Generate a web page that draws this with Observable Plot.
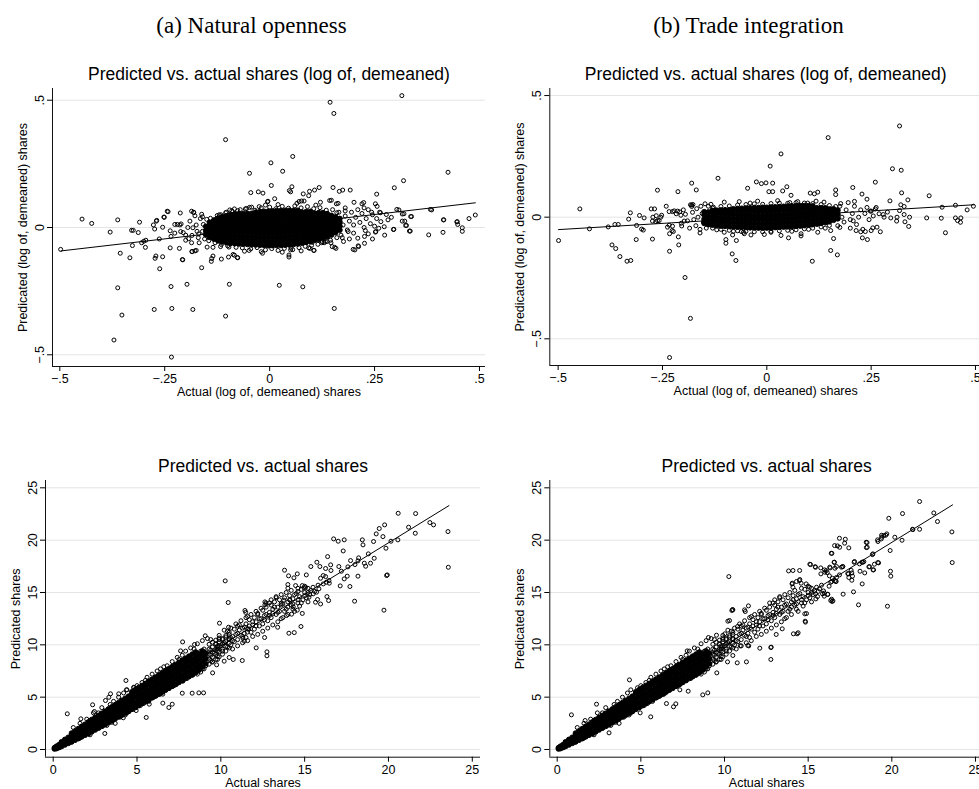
<!DOCTYPE html>
<html><head><meta charset="utf-8">
<script src="https://cdn.jsdelivr.net/npm/d3@7"></script>
<script src="https://cdn.jsdelivr.net/npm/@observablehq/plot@0.6"></script>
<style>
html,body{margin:0;padding:0;background:#fff;}
#wrap{position:relative;width:979px;height:789px;overflow:hidden;background:#fff;}
.panel{position:absolute;width:500px;}
.panel svg{max-width:none !important;}
</style></head><body>
<div id="wrap">
 <div class="panel" id="pA" style="left:0px;top:0px"></div>
 <div class="panel" id="pB" style="left:490px;top:0px"></div>
 <div class="panel" id="pC" style="left:0px;top:430px"></div>
 <div class="panel" id="pD" style="left:490px;top:430px"></div>
</div>
<script>
// ---------- tick values ----------
const xTicksLog = [-0.5, -0.25, 0, 0.25, 0.5];
const yTicksLog = [-0.5, 0, 0.5];
const xTicksShares = [0, 5, 10, 15, 20, 25];
const yTicksShares = [0, 5, 10, 15, 20, 25];

// ---------- (a) natural openness, log demeaned ----------
// dense core: [actual, [predicted ...]]
const natLogCore = [
[-0.152,[-0.028,-0.012,0.004]],
[-0.143,[-0.038,-0.022,-0.005,0.01,0.02]],
[-0.133,[-0.045,-0.03,-0.014,0.002,0.017,0.028]],
[-0.123,[-0.052,-0.036,-0.02,-0.004,0.011,0.026,0.036]],
[-0.113,[-0.056,-0.04,-0.025,-0.009,0.006,0.021,0.035,0.042]],
[-0.103,[-0.059,-0.044,-0.028,-0.013,0.002,0.017,0.031,0.045]],
[-0.093,[-0.061,-0.046,-0.03,-0.015,0.0,0.015,0.03,0.044,0.05]],
[-0.083,[-0.063,-0.047,-0.032,-0.016,-0.001,0.014,0.029,0.043,0.053]],
[-0.073,[-0.064,-0.048,-0.033,-0.017,-0.002,0.013,0.028,0.042,0.054]],
[-0.063,[-0.065,-0.05,-0.034,-0.018,-0.003,0.012,0.027,0.041,0.054]],
[-0.053,[-0.066,-0.051,-0.035,-0.019,-0.004,0.011,0.026,0.04,0.055]],
[-0.043,[-0.067,-0.052,-0.036,-0.02,-0.005,0.01,0.025,0.04,0.055]],
[-0.033,[-0.068,-0.053,-0.037,-0.021,-0.006,0.009,0.024,0.039,0.055,0.06]],
[-0.023,[-0.069,-0.054,-0.038,-0.022,-0.007,0.008,0.023,0.038,0.054,0.062]],
[-0.013,[-0.07,-0.055,-0.039,-0.023,-0.008,0.007,0.022,0.037,0.052,0.063]],
[-0.003,[-0.071,-0.056,-0.04,-0.024,-0.009,0.006,0.021,0.036,0.051,0.064]],
[0.007,[-0.071,-0.056,-0.04,-0.024,-0.009,0.006,0.021,0.036,0.051,0.065]],
[0.017,[-0.07,-0.055,-0.039,-0.023,-0.008,0.007,0.022,0.037,0.052,0.066]],
[0.027,[-0.07,-0.054,-0.038,-0.022,-0.007,0.008,0.023,0.038,0.053,0.066]],
[0.037,[-0.069,-0.053,-0.037,-0.021,-0.006,0.009,0.024,0.039,0.054,0.067]],
[0.047,[-0.068,-0.052,-0.036,-0.02,-0.005,0.01,0.025,0.04,0.055,0.067]],
[0.057,[-0.066,-0.05,-0.034,-0.018,-0.003,0.012,0.027,0.042,0.057,0.067]],
[0.067,[-0.064,-0.048,-0.032,-0.016,-0.001,0.014,0.029,0.044,0.058,0.067]],
[0.077,[-0.061,-0.045,-0.03,-0.014,0.002,0.017,0.032,0.047,0.06]],
[0.087,[-0.058,-0.042,-0.027,-0.011,0.005,0.02,0.035,0.05,0.062]],
[0.097,[-0.054,-0.039,-0.023,-0.007,0.008,0.023,0.038,0.053,0.063]],
[0.107,[-0.05,-0.035,-0.019,-0.003,0.012,0.027,0.042,0.056]],
[0.117,[-0.046,-0.03,-0.014,0.001,0.016,0.031,0.046,0.058]],
[0.127,[-0.041,-0.025,-0.009,0.006,0.021,0.036,0.05,0.058]],
[0.137,[-0.035,-0.019,-0.004,0.012,0.027,0.042,0.054]],
[0.147,[-0.029,-0.013,0.003,0.018,0.033,0.047]],
[0.157,[-0.02,-0.004,0.012,0.027,0.041]],
[0.167,[-0.01,0.006,0.022,0.035]]
];
// individual circles: [actual, predicted]
const natLogPoints = [
[-0.498,-0.086],[-0.447,0.033],[-0.424,0.016],[-0.380,-0.018],[-0.362,0.030],[-0.356,-0.101],[-0.333,-0.119],
[-0.329,-0.011],[-0.325,-0.011],[-0.327,-0.071],[-0.313,-0.020],[-0.310,0.021],[-0.305,-0.060],[-0.300,-0.054],
[-0.296,-0.078],[-0.295,-0.050],[-0.362,-0.237],[-0.352,-0.344],[-0.371,-0.442],[-0.275,-0.322],[-0.235,-0.232],
[-0.233,-0.318],[-0.234,-0.509],[-0.197,-0.223],[-0.183,-0.322],[-0.105,0.345],[-0.105,-0.348],[-0.096,-0.223],
[0.023,-0.227],[0.079,-0.233],[0.154,-0.318],[0.144,0.492],[0.153,0.448],[0.315,0.518],[0.003,0.254],[0.055,0.279],
[0.031,0.221],[-0.048,0.213],[0.425,0.217],[0.319,0.184],[0.297,0.156],[0.255,0.131],[0.383,0.071],[0.303,0.071],
[0.475,0.035],[0.490,0.049],[0.415,0.030],[0.447,0.023],[0.448,0.012],[0.459,-0.001],[0.459,-0.015],[0.413,-0.019],
[0.379,-0.029],[0.335,-0.014],[0.338,0.043],[0.326,0.008],[0.322,0.025],[0.316,0.053],[0.296,-0.007],[0.274,-0.030],
[0.265,0.023],[0.253,-0.016],[0.260,-0.003],[0.273,0.003],[0.282,0.030],[0.290,0.040],[0.226,-0.062],[0.211,-0.072],
[0.199,-0.086],[0.155,-0.078],[0.146,-0.060],[0.137,-0.055],[0.125,-0.055],[0.106,-0.090],[0.096,-0.082],[0.046,-0.116],
[0.046,-0.108],[0.051,-0.081],[-0.017,-0.101],[-0.076,-0.119],[-0.084,-0.109],[-0.098,-0.116],[-0.115,-0.124],
[-0.139,-0.133],[-0.138,-0.122],[-0.135,-0.112],[-0.162,-0.158],[-0.208,-0.126],[-0.185,-0.094],[-0.215,-0.082],
[-0.237,-0.080],[-0.262,-0.162],[-0.255,-0.115],[-0.273,-0.121],[-0.271,-0.112],[-0.263,-0.045],[-0.244,0.064],
[-0.252,0.041],[-0.213,0.057],[-0.269,0.028],[-0.277,0.010],[-0.274,-0.006],[-0.255,0.001],[-0.237,-0.013],
[-0.226,0.012],[-0.220,0.012],[-0.214,0.010],[-0.211,0.014],[-0.212,-0.016],[-0.186,0.064],[-0.181,0.059],
[-0.178,0.046],[-0.185,-0.095],[-0.178,-0.092],[-0.200,-0.050],[-0.270,0.025],[-0.251,0.040],[-0.242,0.062],
[-0.235,-0.035],[-0.226,-0.022],[-0.206,-0.020],[-0.207,-0.127],[-0.181,0.060],[-0.183,-0.001],[-0.173,-0.015],
[-0.175,-0.090],[-0.149,-0.077],[-0.135,-0.078],[-0.117,-0.075],[-0.097,-0.077],[-0.093,-0.064],[-0.087,-0.106],
[-0.077,-0.118],[-0.060,-0.093],[-0.049,-0.090],[-0.143,0.012],[-0.131,0.031],[-0.125,0.047],[-0.103,0.060],
[-0.095,0.069],[-0.084,0.073],[-0.058,0.073],[-0.193,-0.044],[-0.185,-0.031],[-0.169,-0.025],
[-0.045,0.137],[-0.027,0.140],[-0.016,0.135],[0.004,0.165],[0.012,0.113],[-0.005,0.101],[0.047,0.145],[0.053,0.160],
[0.050,0.140],[0.080,0.132],[0.093,0.125],[0.095,0.142],[0.107,0.147],[0.118,0.157],[0.151,0.157],[0.166,0.142],
[0.174,0.147],[0.192,0.147],[0.147,0.107],[0.082,0.104],[0.076,0.104],[0.163,0.095],[0.180,0.077],[0.201,0.099],
[0.224,0.098],[0.256,0.083],[-0.048,0.079],[-0.076,0.066],[-0.116,0.050],[-0.141,0.036],[-0.160,0.042],
[-0.043,0.080],[-0.025,0.082],[-0.004,0.103],[0.070,0.102],[0.121,0.099],[0.143,0.106],[0.159,0.093],[0.220,0.093],
[0.252,0.093],[0.225,0.077],[0.243,0.060],[0.264,0.058],[0.278,0.051],[0.308,0.069],[0.320,0.054],[0.336,0.043],
[0.386,0.069],[0.414,0.030],[0.446,0.022],[0.316,0.025],[0.324,0.008],[0.333,-0.014],[0.295,-0.008],[0.252,-0.018],
[0.228,-0.012],[0.226,-0.035],[0.203,-0.088],[0.212,-0.075],[0.173,-0.040],[0.187,-0.016],[0.158,-0.082],
[0.149,-0.075],[0.133,-0.055],[0.124,-0.060],[0.105,-0.090],[0.093,-0.080],[0.050,-0.088],[0.101,-0.058],
[0.170,-0.030],[0.175,0.010],[0.180,0.045],[0.185,-0.010],[0.190,0.025],[0.195,0.060],[0.200,-0.022],[0.200,0.010],
[0.205,0.040],[0.210,-0.042],[0.215,0.020],[0.220,0.055],[0.225,0.000],[0.230,0.035],[0.235,-0.025],[0.240,0.015],
[0.245,0.050],[0.250,0.005],[0.255,0.035],[0.262,0.060],[0.235,0.070],[0.210,0.070],[0.190,-0.045],[0.245,-0.045],
[0.180,0.065],[0.176,-0.055],[0.165,0.060],[-0.200,-0.030],[-0.195,0.000],[-0.190,0.025],[-0.186,-0.060],
[-0.175,0.010],[-0.170,-0.040],[-0.165,0.035],[-0.160,-0.015],[-0.158,0.012],[-0.168,-0.060],[-0.155,-0.045],
[-0.150,0.032],[-0.162,0.052],[-0.145,-0.052],
[-0.120,0.050],[-0.105,0.058],[-0.090,0.066],[-0.070,0.070],[-0.055,0.075],[-0.035,0.068],[-0.020,0.077],[0.000,0.080],
[0.015,0.074],[0.030,0.083],[0.045,0.076],[0.060,0.085],[0.075,0.077],[0.090,0.082],[0.105,0.074],[0.120,0.078],
[0.135,0.068],[0.150,0.070],[0.160,0.058],[0.020,0.090],[0.065,0.095],[-0.010,0.088],[0.110,0.088],
[-0.130,-0.060],[-0.115,-0.067],[-0.100,-0.072],[-0.080,-0.078],[-0.065,-0.080],[-0.045,-0.084],[-0.030,-0.079],
[-0.010,-0.088],[0.005,-0.083],[0.020,-0.090],[0.035,-0.082],[0.055,-0.087],[0.070,-0.079],[0.085,-0.074],
[0.100,-0.070],[0.115,-0.066],[0.130,-0.060],[0.145,-0.050],[0.160,-0.040],[-0.020,-0.095],[0.030,-0.097],[0.075,-0.092]
];
const natLogFit = [[-0.497,-0.092],[0.490,0.097]];

// ---------- (b) trade integration, log demeaned ----------
const tradeLogCore = [
[-0.15,[-0.025,-0.008,0.01,0.022]],
[-0.14,[-0.03,-0.013,0.004,0.021]],
[-0.13,[-0.032,-0.015,0.002,0.019,0.027]],
[-0.12,[-0.034,-0.017,0.0,0.017,0.028]],
[-0.11,[-0.036,-0.019,-0.002,0.015,0.029]],
[-0.10,[-0.037,-0.02,-0.003,0.014,0.03]],
[-0.09,[-0.038,-0.021,-0.004,0.013,0.03]],
[-0.08,[-0.039,-0.022,-0.005,0.012,0.029,0.034]],
[-0.07,[-0.04,-0.023,-0.006,0.011,0.028,0.035]],
[-0.06,[-0.041,-0.024,-0.007,0.01,0.027,0.036]],
[-0.05,[-0.042,-0.025,-0.008,0.009,0.026,0.037]],
[-0.04,[-0.043,-0.026,-0.009,0.008,0.025,0.038]],
[-0.03,[-0.043,-0.026,-0.009,0.008,0.025,0.039]],
[-0.02,[-0.044,-0.027,-0.01,0.007,0.024,0.039]],
[-0.01,[-0.044,-0.027,-0.01,0.007,0.024,0.04]],
[0.00,[-0.044,-0.027,-0.01,0.007,0.024,0.04]],
[0.01,[-0.043,-0.026,-0.009,0.008,0.025,0.041]],
[0.02,[-0.042,-0.025,-0.008,0.009,0.026,0.042]],
[0.03,[-0.041,-0.024,-0.007,0.01,0.027,0.043]],
[0.04,[-0.04,-0.023,-0.006,0.011,0.028,0.044]],
[0.05,[-0.039,-0.022,-0.005,0.012,0.029,0.045]],
[0.06,[-0.038,-0.021,-0.004,0.013,0.03,0.046]],
[0.07,[-0.037,-0.02,-0.003,0.014,0.031,0.046]],
[0.08,[-0.036,-0.019,-0.002,0.015,0.032,0.047]],
[0.09,[-0.034,-0.017,0.0,0.017,0.034,0.047]],
[0.10,[-0.032,-0.015,0.002,0.019,0.036,0.047]],
[0.11,[-0.03,-0.013,0.004,0.021,0.037,0.046]],
[0.12,[-0.028,-0.011,0.006,0.023,0.038]],
[0.13,[-0.025,-0.008,0.009,0.026,0.038]],
[0.14,[-0.022,-0.005,0.012,0.029,0.038]],
[0.15,[-0.018,-0.001,0.016,0.033]],
[0.16,[-0.012,0.005,0.022,0.034]],
[0.17,[-0.006,0.012,0.028]]
];
const tradeLogPoints = [
[-0.499,-0.096],[-0.448,0.034],[-0.425,-0.048],[-0.380,-0.040],[-0.364,-0.030],[-0.356,-0.030],[-0.371,-0.114],
[-0.362,-0.129],[-0.352,-0.162],[-0.335,-0.181],[-0.326,-0.178],[-0.331,-0.008],[-0.327,0.018],[-0.312,-0.034],
[-0.305,0.007],[-0.300,-0.049],[-0.296,-0.053],[-0.294,-0.003],[-0.313,-0.092],[-0.274,-0.090],[-0.262,0.111],
[-0.277,0.034],[-0.269,0.034],[-0.273,0.000],[-0.265,0.006],[-0.262,-0.014],[-0.254,0.000],[-0.252,0.008],
[-0.258,-0.014],[-0.266,-0.018],[-0.274,-0.016],[-0.241,0.045],[-0.234,0.023],[-0.226,0.023],[-0.222,0.026],
[-0.217,0.014],[-0.214,0.025],[-0.209,0.022],[-0.206,0.008],[-0.213,0.105],[-0.234,-0.033],[-0.238,-0.041],
[-0.226,-0.037],[-0.227,-0.055],[-0.233,-0.068],[-0.224,-0.059],[-0.212,-0.081],[-0.211,-0.114],[-0.233,-0.140],
[-0.196,-0.248],[-0.183,-0.416],[-0.233,-0.577],[-0.198,-0.016],[-0.204,-0.036],[-0.180,0.140],[-0.169,0.112],
[-0.183,0.051],[-0.180,0.044],[-0.177,0.052],[-0.117,0.160],[-0.083,-0.151],[-0.074,-0.178],[-0.073,-0.096],
[-0.098,-0.107],[-0.098,-0.092],[-0.061,-0.059],[-0.056,-0.062],[-0.038,-0.073],[-0.046,0.119],[-0.025,0.145],
[-0.013,0.138],[-0.002,0.141],[0.014,0.140],[0.005,0.105],[0.014,0.105],[0.008,0.210],[0.034,0.260],[0.038,0.108],
[0.048,0.125],[0.058,0.090],[0.104,0.099],[0.114,0.096],[0.122,0.103],[0.147,0.327],[0.165,0.112],[0.165,0.093],
[0.206,0.122],[0.228,0.095],[0.240,0.074],[0.260,0.144],[0.301,0.199],[0.322,0.193],[0.318,0.375],[0.323,0.100],
[0.338,0.071],[0.295,0.067],[0.389,0.088],[0.383,-0.003],[0.420,0.041],[0.418,-0.004],[0.428,-0.064],[0.452,0.049],
[0.452,-0.003],[0.457,-0.014],[0.465,-0.003],[0.464,-0.021],[0.480,0.030],[0.495,0.045],[0.109,-0.181],
[0.153,-0.137],[0.169,-0.155],[0.160,-0.088],[0.175,-0.042],[0.052,-0.085],[0.082,-0.077],
[0.311,-0.016],[0.312,0.000],[0.297,-0.003],[0.281,0.000],[0.289,0.021],[0.279,0.011],[0.272,-0.060],[0.254,-0.044],
[0.250,-0.055],[0.264,-0.041],[0.241,-0.092],[0.229,-0.085],[0.236,-0.059],[0.214,-0.055],[0.207,-0.015],
[0.321,0.051],[0.329,0.044],[0.318,0.027],[0.329,0.011],[0.342,0.000],[0.331,-0.019],[0.340,-0.038],[0.260,0.034],
[0.269,0.014],[0.248,0.025],
[-0.148,0.055],[-0.134,0.053],[-0.128,0.041],[-0.082,-0.073],[-0.102,0.062],[-0.066,0.064],[-0.022,0.066],
[0.026,0.068],[0.074,0.064],[0.118,0.066],[0.137,0.062],[0.177,0.056],[-0.102,-0.062],[-0.054,-0.068],
[-0.006,-0.071],[0.034,-0.075],[0.082,-0.068],[0.122,-0.062],[0.153,-0.055],[-0.040,0.058],[0.055,0.060],
[0.098,0.058],[-0.120,-0.052],[-0.080,-0.058],[0.010,-0.062],[0.060,-0.058],[0.100,-0.050],[0.140,-0.045],
[-0.180,0.050],[-0.178,0.020],[-0.175,-0.010],[-0.170,-0.035],[-0.168,0.035],[-0.165,0.000],[-0.160,-0.050],
[-0.158,0.045],[-0.155,0.015],[-0.152,-0.020],[-0.190,-0.015],[-0.195,0.012],[-0.200,0.030],[-0.205,-0.025],
[-0.185,-0.045],[-0.160,-0.065],[-0.145,-0.045],[-0.140,0.045],
[0.170,-0.035],[0.175,0.045],[0.180,0.000],[0.185,-0.020],[0.190,0.030],[0.195,0.060],[0.200,-0.010],[0.205,0.015],
[0.210,0.045],[0.215,-0.030],[0.220,0.000],[0.225,0.030],[0.230,-0.050],[0.235,0.015],[0.240,0.040],[0.245,-0.010],
[0.250,0.025],[0.255,0.005],[0.262,0.040],[0.210,0.065],[0.225,-0.060],[0.200,-0.045],
[-0.130,0.038],[-0.110,0.044],[-0.090,0.046],[-0.070,0.050],[-0.050,0.052],[-0.030,0.055],[-0.010,0.053],[0.010,0.056],
[0.030,0.058],[0.050,0.057],[0.070,0.060],[0.090,0.058],[0.110,0.056],[0.130,0.052],[0.150,0.048],[0.165,0.044],
[-0.130,-0.045],[-0.110,-0.050],[-0.090,-0.054],[-0.070,-0.056],[-0.050,-0.058],[-0.030,-0.060],[-0.010,-0.060],
[0.010,-0.058],[0.030,-0.056],[0.050,-0.054],[0.070,-0.052],[0.090,-0.048],[0.110,-0.045],[0.130,-0.040],[0.150,-0.034]
];
const tradeLogFit = [[-0.499,-0.051],[0.496,0.051]];

// ---------- bottom row: shares (actual values shared by both columns) ----------
// solid band near the origin: [actual, [predicted ...]]
const sharesBand = [
[0.08,[0.06,0.16]],[0.2,[0.1,0.3]],[0.35,[0.2,0.45]],[0.5,[0.3,0.55,0.72]],[0.7,[0.45,0.72,0.95]],
[0.9,[0.6,0.88,1.15]],[1.1,[0.75,1.05,1.35,1.55]],[1.3,[0.9,1.25,1.6,1.75]],[1.5,[1.05,1.45,1.82,1.98]],
[1.7,[1.22,1.62,2.02,2.2]],[1.9,[1.38,1.8,2.22,2.4]],[2.1,[1.52,1.98,2.42,2.62]],[2.3,[1.7,2.15,2.6,2.85]],
[2.5,[1.88,2.33,2.78,3.05]],[2.7,[2.05,2.5,2.95,3.25]],[2.9,[2.22,2.68,3.14,3.45]],[3.1,[2.4,2.86,3.32,3.65]],
[3.3,[2.58,3.04,3.5,3.86]],[3.5,[2.75,3.22,3.68,4.06]],[3.7,[2.95,3.42,3.88,4.26]],[3.9,[3.12,3.6,4.08,4.46]],
[4.1,[3.3,3.78,4.26,4.68]],[4.3,[3.48,3.96,4.44,4.88]],[4.5,[3.65,4.14,4.62,5.08]],[4.7,[3.85,4.33,4.81,5.28,5.5]],
[4.9,[4.02,4.5,4.98,5.46,5.7]],[5.1,[4.2,4.68,5.16,5.64,5.9]],[5.3,[4.4,4.88,5.36,5.84,6.1]],[5.5,[4.58,5.06,5.54,6.02,6.3]],
[5.7,[4.76,5.24,5.72,6.2,6.5]],[5.9,[4.95,5.43,5.91,6.39,6.7]],[6.1,[5.12,5.6,6.08,6.56,6.9]],[6.3,[5.3,5.78,6.26,6.74,7.1]],
[6.5,[5.5,5.98,6.46,6.94,7.3]],[6.7,[5.68,6.16,6.64,7.12,7.5]],[6.9,[5.86,6.34,6.82,7.3,7.7]],[7.1,[6.05,6.53,7.01,7.49,7.9]],
[7.3,[6.22,6.7,7.18,7.66,8.1]],[7.5,[6.42,6.9,7.38,7.86,8.3]],[7.7,[6.6,7.08,7.56,8.04,8.5]],[7.9,[6.8,7.28,7.76,8.24,8.7]],
[8.1,[6.98,7.46,7.94,8.42,8.9]],[8.3,[7.15,7.63,8.11,8.59,9.1]],[8.5,[7.35,7.83,8.31,8.79,9.3]],[8.7,[7.6,8.1,8.6,9.1]],
[8.9,[7.9,8.4,8.9,9.4]],[9.1,[8.2,8.7,9.2]]
];
// dense but separately visible circles further up the band: [actual, [predicted ...]]
const sharesBandUpper = [
[9.3,[8.15,8.63,9.11,9.59,10.05]],[9.5,[8.35,8.83,9.31,9.79,10.25]],
[9.7,[8.6,9.08,9.56,10.04,10.45]],[9.9,[8.85,9.33,9.81,10.29,10.65]],[10.1,[9.1,9.58,10.06,10.5]],[10.3,[9.4,9.85,10.3,10.75]],
[10.5,[9.7,10.15,10.6,11.0]],[9.4,[8.5,9.0,9.5]],[9.8,[8.9,9.4,9.9]],[9.0,[9.6,7.7]],[8.8,[9.4,7.4]],[8.6,[9.2,7.2]]
];
// individual circles around the band (both columns)
const sharesMid = [
[9.6,9.2],[9.7,10.1],[9.8,9.6],[9.9,10.5],[10.0,9.9],[10.1,10.6],[10.1,9.4],[10.2,10.2],[10.3,10.9],[10.4,9.8],
[10.5,10.5],[10.5,11.2],[10.6,10.0],[10.7,10.8],[10.8,11.5],[10.8,10.3],[10.9,11.0],[11.0,10.5],[11.1,11.4],
[11.1,11.9],[11.2,10.9],[11.3,11.6],[11.4,11.1],[11.5,12.0],[11.5,10.7],[11.6,11.5],[11.7,12.4],[11.8,11.2],
[11.9,11.9],[12.0,12.6],[12.0,11.5],[12.1,12.2],[12.2,13.0],[12.3,11.8],[12.4,12.5],[12.5,13.3],[12.5,12.0],
[12.6,12.8],[12.7,13.6],[12.8,12.3],[12.9,13.1],[13.0,13.8],[13.0,12.6],[13.1,13.4],[13.2,14.1],[13.3,12.9],
[13.4,13.6],[13.5,14.3],[13.5,13.2],[13.6,12.5],[13.7,13.9],[13.8,14.5],[13.9,13.4],[14.0,14.1],[14.1,14.7],
[14.2,13.8],[14.3,14.4],[14.4,13.2],[14.5,14.9],[14.6,14.0],[14.7,14.6],[14.8,15.3],[14.9,14.3],[15.0,15.0],
[15.1,14.5],[15.2,15.4],[15.3,14.8],[15.5,15.5],[15.6,15.1],[15.8,15.7],[12.2,12.9],[11.6,12.7],[12.9,14.0],
[13.3,14.5],[11.0,11.8],[10.4,11.3],[9.9,10.9],[10.2,11.4],
[10.6,11.6],[10.7,9.6],[10.9,12.0],[11.0,9.9],[11.2,12.3],[11.3,10.2],[11.5,12.6],[11.6,10.4],[11.8,12.9],[11.9,10.8],
[12.1,13.2],[12.2,11.0],[12.4,13.5],[12.5,11.3],[12.7,14.0],[12.8,11.6],[13.0,14.3],[13.1,11.9],[13.3,14.6],[13.4,12.2],
[13.6,14.8],[13.7,12.6],[13.9,15.0],[14.0,12.9],[14.2,15.2],[14.3,13.4],[14.6,15.4],[14.7,13.7],[15.0,15.6],[15.2,14.1],
[10.7,10.4],[11.0,11.1],[11.3,10.8],[11.4,11.7],[11.7,11.8],[11.9,12.2],[12.1,11.8],[12.3,12.5],[12.6,12.4],[12.7,12.9],
[12.9,12.8],[13.1,13.0],[13.2,13.6],[13.4,13.1],[13.6,13.8],[13.8,13.2],[14.0,13.6],[14.1,14.3],[14.3,13.9],[14.4,14.8],
[14.6,14.3],[14.8,14.0],[15.0,14.7],[15.2,15.0],
[1.2,2.1],[1.6,2.5],[2.0,2.9],[2.4,3.5],[2.9,4.0],[3.6,4.6],[3.9,5.0],[4.2,5.4],[4.4,5.7],[5.0,6.1],[5.3,6.4],
[5.6,6.9],[5.9,7.2],[6.2,7.5],[6.4,7.7],[6.8,8.0],[7.1,8.4],[7.4,8.8],[7.7,9.0],[7.9,9.4],[8.2,9.7],[8.6,10.1],
[8.9,10.4],[9.2,10.6],[1.1,0.7],[1.6,1.1],[2.1,1.5],[2.6,2.0],[3.0,2.3],[3.5,2.6],[4.0,3.1],[4.6,3.8],[5.2,4.2],
[5.7,4.6],[6.2,5.2],[6.6,5.6],[7.0,6.0],[7.4,6.3],[7.9,6.9],[8.3,7.1],[8.7,7.6],[9.1,8.0],[9.5,8.4],[6.0,5.0],
[4.3,3.3],[3.7,2.5],[2.7,3.5],[3.4,4.3],[4.8,5.9],[5.5,6.6],[6.6,7.9],[7.5,8.6],[8.4,9.6],[9.4,10.5],
[2.2,1.4],[3.2,2.3],[4.4,3.5],[5.4,4.4],[6.4,5.3],[7.2,6.1],[8.0,6.8],[8.9,7.7],[9.8,8.6]
];
const natSharesPoints = [
[21.62,22.54],[20.58,22.57],[22.47,21.68],[22.69,21.46],[21.20,21.24],[19.77,21.46],[19.45,21.11],[19.27,20.60],
[19.67,20.34],[21.60,20.66],[23.55,20.82],[23.57,17.41],[20.56,20.03],[20.15,19.90],[19.85,19.23],[19.11,19.87],
[18.44,20.03],[18.48,19.55],[16.73,20.12],[17.00,19.90],[17.36,20.03],[17.30,18.97],[19.15,18.27],[18.93,17.80],
[18.80,18.69],[18.22,18.31],[18.18,18.02],[17.74,18.05],[18.56,17.80],[18.64,17.51],[18.00,17.67],[17.58,17.45],
[17.04,17.48],[17.19,17.03],[17.54,16.56],[17.36,16.30],[18.18,16.56],[17.12,15.63],[17.70,15.57],[17.98,14.17],
[19.89,16.62],[19.93,16.68],[19.73,13.31],[16.37,18.43],[15.73,17.89],[16.55,17.64],[15.91,17.48],[15.37,17.48],
[16.57,17.10],[16.25,17.29],[16.11,16.62],[15.95,16.36],[16.25,16.52],[16.45,16.14],[16.29,15.98],[16.47,15.89],
[16.11,15.82],[16.33,14.61],[16.43,14.23],[15.77,14.33],[15.10,16.68],[14.56,16.78],[14.04,16.59],[13.80,17.13],
[14.36,16.40],[14.46,15.66],[14.00,15.76],[14.00,15.41],[14.86,15.66],[14.96,15.44],[14.60,15.09],[14.06,11.11],
[14.38,11.17],[14.78,11.75],[13.39,11.68],[10.26,16.11],[10.44,14.04],[12.63,14.10],[12.63,13.82],[13.92,12.80],
[14.22,12.93],[12.61,10.70],[12.75,9.33],[12.75,8.95],[12.11,9.71],[11.28,8.50],[10.50,8.79],[10.74,8.60],
[10.20,8.44],[9.75,8.09],[9.51,7.32],[9.92,12.07],[10.46,11.68],[8.29,5.38],[8.97,5.41],[8.69,5.41],[7.70,5.38],
[7.74,6.53],[7.10,4.33],[6.90,4.01],[6.54,4.43],[6.54,5.29],[5.55,3.06],[4.95,3.72],[5.73,4.33],[4.34,6.59],
[0.84,3.41],[3.08,1.53],[2.35,4.27],[1.65,2.93],[7.72,10.28],[7.60,9.42],[8.43,10.03],[9.07,10.86],[11.40,10.35],
[11.32,10.63],[11.67,11.52],[10.58,10.70],[11.58,11.21],[11.44,13.28],[11.48,13.10],[2.46,3.63],[3.32,4.99],
[3.42,5.32],[3.91,5.32],[3.12,4.68],[4.18,3.03],[4.37,5.70],[4.81,5.95],[5.21,4.99],[5.70,4.68],[15.37,15.19],
[15.06,15.51],[15.26,14.55],[15.71,15.03],[15.51,14.87],[15.85,15.35],[15.65,14.07],[15.95,13.90],[14.86,13.00],
[14.56,13.31],[14.32,13.63],[14.12,14.27],[13.76,14.27],[13.60,13.95]
];
const natSharesFit = [[0.0,0.06],[23.61,23.30]];
const tradeSharesPoints = [
[21.66,23.69],[20.64,22.54],[22.51,22.60],[22.73,21.78],[21.24,21.04],[21.66,21.04],[19.82,22.09],[23.59,20.79],
[23.61,17.86],[20.18,20.28],[20.61,19.99],[19.15,20.03],[19.40,20.28],[19.64,20.47],[19.39,20.47],[19.90,19.01],
[19.92,17.03],[19.94,16.56],[19.74,13.69],[18.01,13.82],[18.23,15.82],[17.71,15.06],[17.09,14.84],[17.41,16.78],
[17.61,16.87],[17.65,16.56],[17.75,17.89],[18.21,17.89],[18.33,17.95],[18.38,16.87],[18.10,17.03],[18.52,19.77],
[18.48,19.29],[18.84,18.62],[18.63,17.45],[18.96,17.70],[19.16,17.86],[18.88,17.16],[16.75,19.45],[16.87,20.18],
[17.43,19.26],[16.99,17.42],[17.07,17.48],[16.69,17.48],[16.38,18.75],[16.55,17.89],[16.60,17.32],[16.29,17.42],
[15.76,16.78],[16.00,16.94],[16.14,16.90],[16.27,16.59],[16.45,16.36],[16.61,16.14],[16.35,15.98],[16.67,16.05],
[16.69,16.43],[15.10,17.70],[15.44,17.41],[15.75,17.35],[15.98,17.16],[16.25,15.60],[15.97,14.94],[16.17,14.81],
[16.35,14.23],[16.43,14.14],[15.44,14.87],[15.56,14.61],[15.46,14.39],[15.86,14.87],[15.96,14.65],[14.90,12.99],
[14.82,12.26],[14.34,11.05],[14.12,11.05],[13.45,11.53],[13.83,17.06],[14.09,17.10],[14.49,17.10],[14.05,15.89],
[14.09,15.50],[14.50,16.24],[14.58,15.89],[14.30,16.05],[10.26,16.52],[10.44,13.28],[11.43,13.72],[11.20,13.34],
[11.24,13.18],[12.11,9.68],[12.77,9.74],[12.77,8.60],[11.31,8.37],[10.76,8.28],[10.18,8.37],[9.54,7.32],[9.00,5.41],
[8.70,5.22],[7.09,4.36],[6.95,4.08],[6.53,4.39],[7.83,5.57],[7.33,5.70],[5.59,3.12],[4.96,3.50],[4.32,6.65],
[0.85,3.31],[3.10,1.59],[2.35,4.33],[1.67,2.77],[7.77,9.42],[9.04,10.70],[9.52,10.92],[10.02,11.05],[10.20,12.26],
[10.48,13.37],[10.78,11.75],[11.45,9.90],[10.94,9.90],[15.14,17.67],[15.42,17.47],[16.08,17.09],[16.32,17.35],
[16.57,17.89],[17.07,17.47],[16.58,19.48],[16.88,19.32],[17.18,19.71],[17.22,20.09],[16.42,18.74],[18.47,19.80],
[18.53,19.32],[18.87,18.69],[19.17,19.87],[19.37,20.12],[19.52,20.44],[19.70,20.60],[17.77,17.96],[18.07,17.73],
[18.27,17.89],[18.67,17.47],[18.91,17.16],[19.21,17.83],[21.26,21.01],[17.57,17.12],[17.37,16.81],[17.43,16.43],
[17.61,16.17],[16.87,16.68],[16.65,16.05],[16.41,16.05],[16.17,14.84],[15.92,15.15],[16.48,14.20],[16.40,14.36],
[14.04,15.82],[14.48,16.14],[14.88,15.82],[15.08,15.50],[15.38,15.18],[15.68,15.34],[14.40,11.15],[14.84,12.17],
[14.80,12.96],[13.09,10.99],[12.79,9.78],[10.50,8.98],[11.39,9.94],[10.30,12.32],[10.50,13.34]
];
const tradeSharesFit = [[0.0,0.06],[23.63,23.37]];

// ---------- drawing ----------
const fmtLog = d => d === 0 ? "0" : (d < 0 ? "\u2212" : "") + String(Math.abs(d)).replace(/^0/, "");
const fmtInt = d => String(d);
const SANS = '"Liberation Sans", Arial, Helvetica, sans-serif';
const SERIF = '"Liberation Serif", "Times New Roman", serif';
const flatCols = cols => cols.flatMap(([x, ys]) => ys.map(y => [x, y]));

function drawPanel(c) {
  const core = flatCols(c.core).map(([x, y]) => ({x, y}));
  const pts = c.points.map(([x, y]) => ({x, y}));
  const fit = c.fit.map(([x, y]) => ({x, y}));
  const marks = [
    Plot.gridY(c.yTicks, {stroke: "#e4e4e4", strokeOpacity: 1, strokeWidth: 1}),
    Plot.ruleX([c.xDomain[0]], {stroke: "#111", strokeWidth: 1}),
    Plot.ruleY([c.yDomain[0]], {stroke: "#111", strokeWidth: 1}),
    Plot.axisX(c.xTicks, {tickFormat: c.fmt, tickSize: 5, tickPadding: 2.5, fontSize: 12.5, label: null}),
    Plot.axisY(c.yTicks, {tickFormat: c.fmt, tickSize: 5, tickRotate: -90, fontSize: 12.5, label: null}),
    Plot.dot(core, {x: "x", y: "y", r: 2.5, stroke: "#000", strokeWidth: 1, fill: "#000"}),
    Plot.dot(pts, {x: "x", y: "y", r: 2, stroke: "#000", strokeWidth: 1, fill: "none"}),
    Plot.line(fit, {x: "x", y: "y", stroke: "#000", strokeWidth: 1}),
    Plot.text([c.title], {text: d => d, frameAnchor: "top", lineAnchor: "middle", dy: c.titleDy, fontSize: 17.5, fill: "#000"}),
    Plot.text([c.xLabel], {text: d => d, frameAnchor: "bottom", lineAnchor: "middle", dy: 25.5, fontSize: 12.5, fill: "#000"}),
    Plot.text([c.yLabel], {text: d => d, frameAnchor: "left", textAnchor: "middle", lineAnchor: "middle", dx: -29.5, rotate: -90, fontSize: 12.5, fill: "#000"})
  ];
  if (c.heading) marks.push(Plot.text([c.heading], {text: d => d, frameAnchor: "top", lineAnchor: "middle", dx: c.headDx, dy: -62.4, fontSize: 23, fontFamily: SERIF, fill: "#000"}));
  const svg = Plot.plot({
    width: c.width, height: c.height,
    marginLeft: c.ml, marginRight: c.mr, marginTop: c.mt, marginBottom: c.mb,
    x: {domain: c.xDomain}, y: {domain: c.yDomain},
    style: {fontFamily: SANS, background: "white", overflow: "visible", color: "#000", maxWidth: "none"},
    marks
  });
  document.getElementById(c.el).appendChild(svg);
}

const sharesCircles = flatCols(sharesBandUpper).concat(sharesMid);

drawPanel({el: "pA", width: 490, height: 400, ml: 52, mr: 5, mt: 88, mb: 34,
  xDomain: [-0.5174, 0.5143], yDomain: [-0.546, 0.546], xTicks: xTicksLog, yTicks: yTicksLog, fmt: fmtLog,
  core: natLogCore, points: natLogPoints, fit: natLogFit,
  title: "Predicted vs. actual shares (log of, demeaned)", titleDy: -14,
  xLabel: "Actual (log of, demeaned) shares", yLabel: "Predicated (log of, demeaned) shares",
  heading: "(a) Natural openness", headDx: -17.5});
drawPanel({el: "pB", width: 500, height: 400, ml: 59.3, mr: 9, mt: 88, mb: 35,
  xDomain: [-0.520, 0.5144], yDomain: [-0.6097, 0.529], xTicks: xTicksLog, yTicks: yTicksLog, fmt: fmtLog,
  core: tradeLogCore, points: tradeLogPoints, fit: tradeLogFit,
  title: "Predicted vs. actual shares (log of, demeaned)", titleDy: -14,
  xLabel: "Actual (log of, demeaned) shares", yLabel: "Predicated (log of, demeaned) shares",
  heading: "(b) Trade integration", headDx: -17.2});
drawPanel({el: "pC", width: 490, height: 359, ml: 45, mr: 10, mt: 50, mb: 32.3,
  xDomain: [-0.459, 25.49], yDomain: [-0.736, 25.70], xTicks: xTicksShares, yTicks: yTicksShares, fmt: fmtInt,
  core: sharesBand, points: sharesCircles.concat(natSharesPoints), fit: natSharesFit,
  title: "Predicted vs. actual shares", titleDy: -14,
  xLabel: "Actual shares", yLabel: "Predicated shares"});
drawPanel({el: "pD", width: 500, height: 359, ml: 59.3, mr: 7, mt: 50, mb: 32.3,
  xDomain: [-0.442, 25.48], yDomain: [-0.736, 25.70], xTicks: xTicksShares, yTicks: yTicksShares, fmt: fmtInt,
  core: sharesBand, points: sharesCircles.concat(tradeSharesPoints), fit: tradeSharesFit,
  title: "Predicted vs. actual shares", titleDy: -14,
  xLabel: "Actual shares", yLabel: "Predicated shares"});
</script>
</body></html>
